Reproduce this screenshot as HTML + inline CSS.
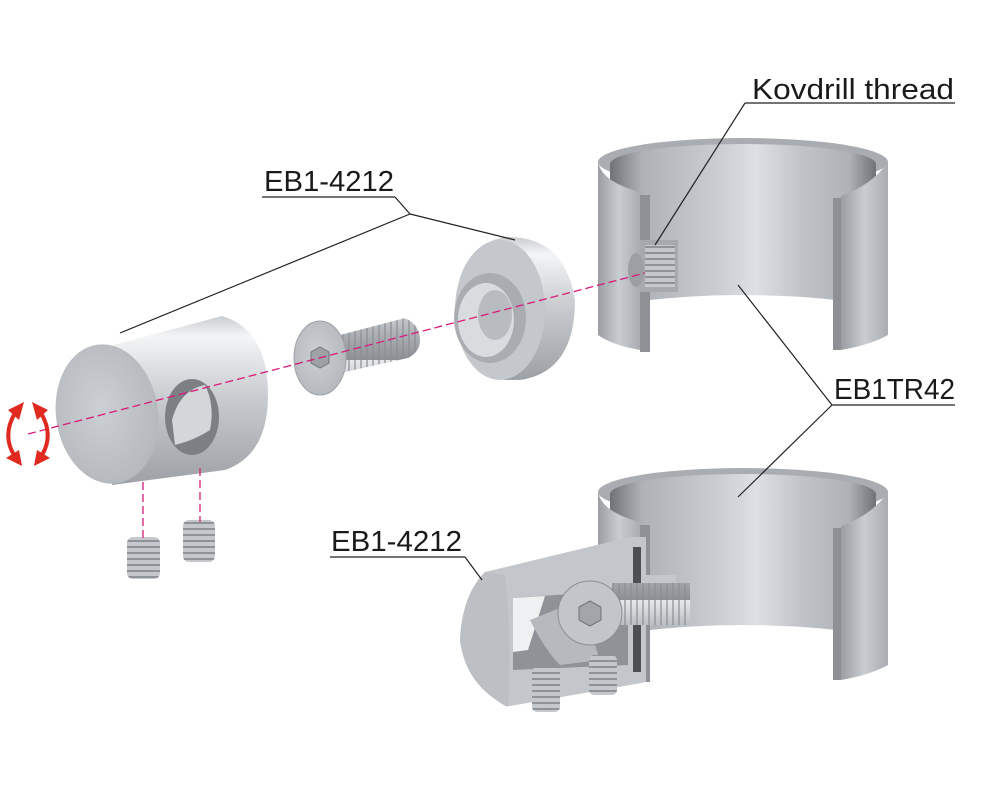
<!DOCTYPE html>
<html><head><meta charset="utf-8"><style>
html,body{margin:0;padding:0;background:#fff;width:1000px;height:800px;overflow:hidden}
svg text{font-family:"Liberation Sans Narrow","Liberation Sans",sans-serif;font-size:29px;fill:#1a1a1a}
</style></head><body>
<svg width="1000" height="800" viewBox="0 0 1000 800" xmlns="http://www.w3.org/2000/svg">
<defs>
<linearGradient id="ring" x1="0" x2="1" y1="0" y2="0">
<stop offset="0" stop-color="#9a9ea3"/><stop offset="0.5" stop-color="#c9ccd0"/><stop offset="1" stop-color="#a9adb2"/></linearGradient>
<linearGradient id="inner" x1="0" x2="1" y1="0" y2="0">
<stop offset="0" stop-color="#6f7378"/><stop offset="0.12" stop-color="#aeb2b7"/><stop offset="0.4" stop-color="#c9ccd1"/><stop offset="0.55" stop-color="#dde0e5"/><stop offset="0.7" stop-color="#c3c6cb"/><stop offset="0.9" stop-color="#aeb2b7"/><stop offset="1" stop-color="#6f7378"/></linearGradient>
<linearGradient id="cyl" x1="0" x2="0" y1="0" y2="1">
<stop offset="0" stop-color="#c9ccd0"/><stop offset="0.12" stop-color="#f4f5f6"/><stop offset="0.5" stop-color="#c7cace"/><stop offset="1" stop-color="#9da1a6"/></linearGradient>
<radialGradient id="cap" cx="0.45" cy="0.45" r="0.7"><stop offset="0" stop-color="#ccd0d4"/><stop offset="1" stop-color="#b0b4b9"/></radialGradient>
<linearGradient id="thr" x1="0" x2="0" y1="0" y2="1"><stop offset="0" stop-color="#e8e9eb"/><stop offset="0.5" stop-color="#b2b6ba"/><stop offset="1" stop-color="#8c9095"/></linearGradient>
<pattern id="th" width="6" height="60" patternUnits="userSpaceOnUse"><rect width="6" height="60" fill="url(#thr)"/><rect width="2" height="60" fill="#8a8e93" opacity="0.6"/></pattern>
<pattern id="thv" width="40" height="6" patternUnits="userSpaceOnUse"><rect width="40" height="6" fill="#c4c7cb"/><rect width="40" height="2" fill="#8f9398"/></pattern>
</defs>

<!-- top ring -->
<ellipse cx="743" cy="162" rx="145" ry="24" fill="#a9adb2"/>
<path d="M610 164 A133 20 0 0 1 876 164 L876 305 Q743 285 610 305 Z" fill="url(#inner)"/>
<path d="M598 162 Q602 182 640 192 L640 350 Q612 345 598 335 Z" fill="url(#ring)"/>
<rect x="640" y="195" width="10" height="157" fill="#8d9196"/>
<path d="M888 162 L888 335 Q870 345 841 350 L841 196 Q872 185 888 162 Z" fill="url(#ring)"/>
<rect x="833" y="198" width="8" height="152" fill="#8d9196"/>
<path d="M640 240 L678 240 L678 292 L640 292 Z" fill="#a6aaaf"/>
<rect x="645" y="245" width="30" height="42" fill="url(#thv)"/>
<ellipse cx="636" cy="270" rx="8" ry="17" fill="#9ca0a5"/>

<!-- bottom ring -->
<ellipse cx="743" cy="492" rx="145" ry="24" fill="#a9adb2"/>
<path d="M610 494 A133 20 0 0 1 876 494 L876 635 Q743 615 610 635 Z" fill="url(#inner)"/>
<path d="M598 492 Q602 512 640 522 L640 680 Q612 675 598 665 Z" fill="url(#ring)"/>
<rect x="640" y="525" width="10" height="157" fill="#8d9196"/>
<path d="M888 492 L888 665 Q870 675 841 680 L841 526 Q872 515 888 492 Z" fill="url(#ring)"/>
<rect x="833" y="528" width="8" height="152" fill="#8d9196"/>

<!-- bottom assembly section -->
<path d="M485 572 L630 537 L646 537 L646 682 L630 685 L510 706 L505 706 Q465 680 460 640 Q462 595 485 572 Z" fill="#c3c6ca"/>
<path d="M485 572 Q462 595 460 640 Q465 685 508 707 Q512 640 505 575 Z" fill="#bcc0c4"/>
<path d="M513 598 L628 590 L628 665 L513 670 Z" fill="#8f9398"/>
<path d="M513 598 L545 596 L528 650 L513 652 Z" fill="#eef0f1"/>
<path d="M530 620 Q545 650 560 665 L600 660 L580 600 Z" fill="#b6babe"/>
<rect x="633" y="547" width="8" height="125" fill="#4c4f53"/>
<rect x="646" y="575" width="30" height="20" fill="#c3c6ca"/>
<rect x="612" y="583" width="78" height="42" fill="url(#th)"/>
<circle cx="590" cy="613" r="32" fill="#c2c5c9" stroke="#8a8e93"/>
<polygon points="590,601 601,607 601,620 590,626 579,620 579,607" fill="#a2a6ab" stroke="#6f7378"/>
<rect x="532" y="667" width="28" height="45" fill="url(#thv)" rx="5"/>
<rect x="589" y="655" width="28" height="40" fill="url(#thv)" rx="5"/>

<!-- left cylinder -->
<path d="M110 346 L222 316 Q268 330 268 395 Q268 455 225 470 L112 485 Z" fill="url(#cyl)"/>
<ellipse cx="107" cy="414" rx="51" ry="70" fill="url(#cap)" transform="rotate(-8 107 414)"/>
<ellipse cx="192" cy="417" rx="27" ry="38" fill="#7c8085"/>
<path d="M172 420 Q180 390 205 385 Q215 405 210 430 Q195 440 175 445 Z" fill="#d4d7da"/>

<!-- disc -->
<path d="M510 237 Q565 238 575 300 Q575 372 520 380 L505 380 Q455 370 455 308 Q458 245 505 237 Z" fill="url(#cyl)"/>
<ellipse cx="500" cy="310" rx="45" ry="70" fill="#c4c7cb"/>
<ellipse cx="490" cy="318" rx="36" ry="45" fill="#a9adb2"/>
<ellipse cx="486" cy="320" rx="28" ry="37" fill="#d9dbde"/>
<ellipse cx="495" cy="315" rx="17" ry="25" fill="#b8bcc0"/>

<!-- screw -->
<path d="M340 335 L405 318 Q420 325 420 340 Q420 352 408 358 L345 372 Z" fill="url(#th)"/>
<ellipse cx="320" cy="358" rx="26" ry="37" fill="url(#cap)" stroke="#a0a4a9"/>
<polygon points="320,347 329,352 329,363 320,368 311,363 311,352" fill="#9ea2a7" stroke="#6f7378"/>

<!-- set screws -->
<rect x="127" y="537" width="33" height="42" rx="6" fill="url(#thv)"/>
<rect x="183" y="520" width="32" height="42" rx="6" fill="url(#thv)"/>

<!-- dashed axis lines -->
<g stroke="#d81b7a" stroke-width="1.3" stroke-dasharray="8,4" fill="none">
<line x1="28" y1="434" x2="645" y2="273"/>
<line x1="143" y1="482" x2="143" y2="540"/>
<line x1="200" y1="468" x2="200" y2="522"/>
</g>

<!-- red rotation arrows -->
<g stroke="#e02a20" stroke-width="4" fill="none">
<path d="M15 413 Q2 435 14 455"/>
<path d="M41 413 Q54 435 42 455"/>
</g>
<g fill="#e02a20">
<polygon points="8,410 24,402 19,420"/><polygon points="6,458 22,466 19,450"/>
<polygon points="32,402 48,410 37,420"/><polygon points="34,466 50,458 37,450"/>
</g>

<!-- labels -->
<g stroke="#222" stroke-width="1.2" fill="none">
<line x1="745" y1="103" x2="955" y2="103"/><line x1="745" y1="103" x2="655" y2="245"/>
<line x1="262" y1="197" x2="395" y2="197"/><line x1="395" y1="197" x2="410" y2="214"/>
<line x1="410" y1="214" x2="120" y2="333"/><line x1="410" y1="214" x2="515" y2="240"/>
<line x1="832" y1="405" x2="955" y2="405"/><line x1="832" y1="405" x2="738" y2="285"/><line x1="832" y1="405" x2="738" y2="497"/>
<line x1="330" y1="557" x2="465" y2="557"/><line x1="465" y1="557" x2="482" y2="580"/>
</g>
<text x="752" y="99" textLength="202" lengthAdjust="spacingAndGlyphs">Kovdrill thread</text>
<text x="264" y="191" textLength="130" lengthAdjust="spacingAndGlyphs">EB1-4212</text>
<text x="834" y="399" textLength="121" lengthAdjust="spacingAndGlyphs">EB1TR42</text>
<text x="331" y="551" textLength="131" lengthAdjust="spacingAndGlyphs">EB1-4212</text>
</svg>
</body></html>
